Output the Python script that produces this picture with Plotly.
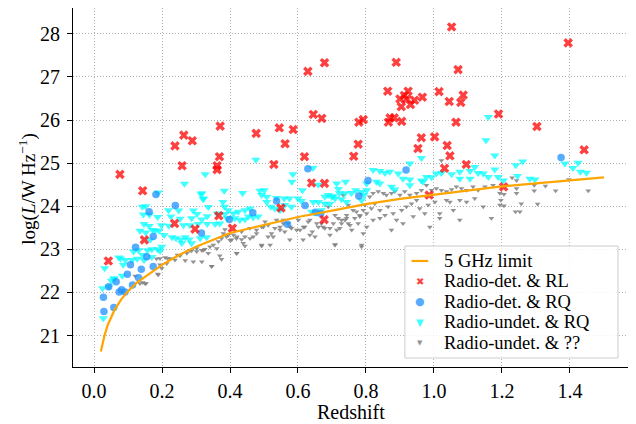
import plotly.graph_objects as go

# 5 GHz flux limit curve
limit_z = [0.02, 0.03, 0.04, 0.05, 0.06, 0.08, 0.1, 0.125, 0.15, 0.2, 0.25, 0.3, 0.4, 0.5,
           0.6, 0.7, 0.8, 0.9, 1.0, 1.1, 1.2, 1.3, 1.4, 1.5]
limit_logL = [20.63, 20.98, 21.24, 21.43, 21.59, 21.84, 22.03, 22.22, 22.36, 22.64, 22.87, 23.06,
              23.38, 23.57, 23.75, 23.9, 24.05, 24.17, 24.27, 24.37, 24.46, 24.53, 24.6, 24.67]

# Radio-detected & radio-loud
rl_z = [0.076, 0.143, 0.238, 0.264, 0.289, 0.371, 0.369, 0.362, 0.362, 0.259, 0.477, 0.545,
        0.562, 0.586, 0.529, 0.619, 0.629, 0.678, 0.645, 0.670, 0.640, 0.678,
        1.052, 1.395, 0.889, 1.071, 0.864, 1.015, 0.924, 0.913, 0.900, 0.920, 0.943, 0.966,
        0.931, 0.904, 1.045, 1.079, 1.086, 1.190, 0.779, 0.792, 0.866, 0.871, 0.883, 0.905,
        1.065, 1.303, 0.777, 0.764, 0.963, 1.002, 0.953, 1.039, 1.047, 1.095, 1.442, 1.031,
        0.986, 1.205,
        0.042, 0.148, 0.237, 0.297, 0.367, 0.407, 0.550, 0.677]
rl_logL = [24.74, 24.36, 25.40, 25.65, 25.52, 25.86, 25.15, 24.94, 24.85, 24.94, 25.69, 25.82,
           25.45, 25.78, 24.97, 25.15, 27.13, 27.33, 26.13, 26.04, 24.54, 24.53,
           28.16, 27.79, 27.34, 27.17, 26.67, 26.66, 26.67, 26.57, 26.49, 26.49, 26.46, 26.53,
           26.36, 26.31, 26.43, 26.41, 26.58, 26.14, 25.95, 26.01, 25.95, 26.05, 26.05, 25.97,
           25.95, 25.85, 25.44, 25.16, 25.59, 25.61, 25.34, 25.41, 25.17, 24.97, 25.31, 24.88,
           24.26, 24.45,
           22.73, 23.22, 23.60, 23.47, 23.78, 23.49, 23.96, 23.69]

# Radio-detected & radio-quiet
rq_z = [0.0275, 0.029, 0.058, 0.043, 0.065, 0.074, 0.081, 0.091, 0.113, 0.131, 0.139, 0.098,
        0.107, 0.122, 0.155, 0.174, 0.162, 0.174, 0.182, 0.239, 0.316, 0.398, 0.467, 0.537,
        0.569, 0.621, 0.651, 0.667, 0.629, 0.779, 0.806, 0.918, 1.374]
rq_logL = [21.89, 21.56, 21.65, 22.13, 22.25, 22.01, 22.06, 22.01, 22.17, 22.34, 22.54, 22.42,
           22.64, 23.05, 22.83, 23.30, 23.87, 22.60, 24.27, 24.02, 23.38, 23.69, 23.85, 24.12,
           23.58, 24.02, 23.86, 23.83, 24.87, 24.24, 24.60, 24.84, 25.13]

# Radio-undetected & radio-quiet
urq_z = [0.327, 0.266, 0.189, 0.383, 0.317, 0.321, 0.142, 0.152, 0.336, 0.219, 0.249, 0.292,
         0.379, 0.384, 0.303, 0.362, 0.333, 0.391, 0.145, 0.163, 0.187, 0.226, 0.253, 0.287,
         0.317, 0.370, 0.147, 0.162, 0.198, 0.220, 0.263, 0.282, 0.306, 0.333, 0.356, 0.135,
         0.152, 0.172, 0.180, 0.191, 0.206, 0.229, 0.241, 0.255, 0.268, 0.280, 0.312, 0.331,
         0.258, 0.287, 0.170, 0.187, 0.199, 0.157, 0.116, 0.131, 0.143, 0.147, 0.170, 0.194,
         0.127, 0.078, 0.092, 0.112, 0.086, 0.031, 0.059, 0.051, 0.083, 0.025, 0.044, 0.165,
         0.027, 0.058, 0.073,
         0.476, 0.585, 0.582, 0.613, 0.644, 0.660, 0.714, 0.740, 0.719, 0.722, 0.315, 0.322,
         0.437, 0.488, 0.501, 0.493, 0.508, 0.537, 0.575, 0.600, 0.679, 0.689, 0.704,
         0.738, 0.757, 0.770, 0.787, 0.508, 0.559, 0.520, 0.532, 0.547, 0.561, 0.581, 0.395,
         0.410, 0.424, 0.444, 0.459, 0.385, 0.414, 0.429, 0.444, 0.454, 0.468, 0.483, 0.610,
         0.645, 0.660, 0.699, 0.709, 0.679, 0.694, 0.728, 0.743, 0.640, 0.655, 0.669,
         1.153, 1.179, 0.929, 0.963, 0.821, 0.841, 0.856, 0.870, 0.895, 0.909, 0.929, 0.963,
         0.978, 0.993, 1.007, 1.022, 1.052, 1.076, 1.106, 1.120, 1.130, 1.145, 1.160, 1.179,
         1.189, 1.076, 1.106, 0.802, 0.831, 0.841, 0.875, 0.885, 0.929, 0.968, 0.802, 0.794,
         0.787,
         1.241, 1.261, 1.204, 1.246, 1.282, 1.297, 1.385, 1.409, 1.424, 1.431, 1.449, 1.160]
urq_logL = [24.74, 24.52, 24.32, 24.36, 24.30, 24.16, 23.99, 24.00, 23.98, 23.91, 23.90, 23.90,
            24.10, 23.99, 23.82, 23.83, 23.77, 23.72, 23.81, 23.80, 23.75, 23.76, 23.71, 23.72,
            23.69, 23.60, 23.59, 23.54, 23.56, 23.55, 23.56, 23.56, 23.59, 23.59, 23.59, 23.43,
            23.39, 23.45, 23.43, 23.43, 23.33, 23.28, 23.26, 23.23, 23.28, 23.23, 23.26, 23.28,
            23.15, 23.14, 23.00, 23.00, 23.06, 22.98, 22.95, 22.98, 22.87, 22.75, 22.82, 22.96,
            22.78, 22.79, 22.75, 22.75, 22.64, 22.56, 22.33, 22.27, 22.39, 22.10, 22.14, 23.22,
            21.40, 22.31, 22.81,
            25.08, 24.74, 24.57, 24.37, 24.89, 24.50, 24.53, 24.57, 24.40, 24.30, 24.28, 24.18,
            24.31, 24.36, 24.37, 24.26, 24.22, 24.19, 24.18, 24.18, 24.22, 24.26, 24.23,
            24.30, 24.31, 24.37, 24.33, 24.10, 24.18, 23.99, 23.95, 23.91, 24.03, 23.99, 23.91,
            23.83, 23.87, 23.91, 23.95, 23.82, 23.72, 23.68, 23.69, 23.76, 23.74, 23.76, 24.12,
            24.10, 24.10, 24.22, 24.18, 24.06, 24.06, 24.16, 24.10, 23.87, 23.85, 23.91,
            25.53, 25.18, 24.99, 25.12, 24.84, 24.82, 24.77, 24.80, 24.76, 24.64, 24.62, 24.60,
            24.68, 24.67, 24.76, 24.77, 24.74, 24.80, 24.82, 24.91, 24.77, 24.76, 24.68, 24.85,
            24.68, 24.64, 24.64, 24.53, 24.57, 24.53, 24.45, 24.39, 24.49, 24.57, 24.37, 24.26,
            24.14,
            24.95, 25.04, 24.60, 24.70, 24.64, 24.62, 24.99, 24.89, 25.01, 24.80, 24.78, 26.07]

# Radio-undetected & unknown
unk_z = [0.143, 0.153, 0.189, 0.184, 0.194, 0.209, 0.224, 0.238, 0.253, 0.268, 0.273, 0.287,
         0.302, 0.317, 0.326, 0.341, 0.351, 0.366, 0.375, 0.380, 0.390, 0.400, 0.410, 0.420,
         0.434, 0.439, 0.420, 0.375, 0.346, 0.317, 0.292, 0.214, 0.199,
         0.459, 0.478, 0.493, 0.518, 0.527, 0.547, 0.557, 0.577, 0.606, 0.616, 0.635, 0.655,
         0.674, 0.694, 0.714, 0.709, 0.728, 0.743, 0.748, 0.498, 0.537,
         0.216, 0.245, 0.282, 0.302, 0.321, 0.336, 0.361, 0.346, 0.370, 0.187, 0.150, 0.135,
         0.194,
         0.385, 0.395, 0.405, 0.419, 0.419, 0.434, 0.444, 0.444, 0.459, 0.468, 0.478, 0.493,
         0.493, 0.503, 0.512, 0.512, 0.522, 0.532, 0.547, 0.557, 0.561, 0.571, 0.576, 0.581,
         0.596, 0.601, 0.615, 0.620, 0.630, 0.635, 0.642, 0.650, 0.660, 0.669, 0.679, 0.689,
         0.694, 0.704, 0.709, 0.709, 0.718, 0.723, 0.728, 0.738, 0.743, 0.753, 0.758, 0.767,
         0.772, 0.777, 0.782, 0.787, 0.748, 0.762,
         0.782, 0.792, 0.797, 0.811, 0.821, 0.836, 0.851, 0.860, 0.875, 0.885, 0.900, 0.914,
         0.929, 0.949, 0.963, 0.978, 0.993, 1.007, 1.022, 1.037, 1.052, 1.066, 1.081, 1.096,
         1.115, 1.130, 1.150, 1.174,
         0.802, 0.816, 0.826, 0.841, 0.856, 0.865, 0.880, 0.890, 0.905, 0.919, 0.934, 0.949,
         0.958, 0.973, 0.983, 0.988, 1.003, 1.017, 1.037, 1.057, 1.076, 1.096, 1.120, 1.145,
         1.169,
         0.792, 0.787, 0.802, 0.821, 0.841, 0.875, 0.909, 0.939, 1.017, 1.047, 1.076,
         1.230, 1.243, 1.194, 1.206, 1.197, 1.194, 1.206, 1.243, 1.243, 1.257, 1.240, 1.253,
         1.295, 1.295, 1.305, 1.328, 1.358, 1.397, 1.454,
         1.022, 0.733, 0.121]
unk_logL = [22.23, 22.21, 22.41, 22.78, 22.79, 22.81, 22.79, 22.75, 22.85, 22.74, 22.91, 22.97,
            23.02, 22.98, 23.00, 23.06, 23.10, 23.18, 23.25, 23.37, 23.29, 23.21, 23.33, 23.29,
            23.23, 23.14, 22.91, 22.77, 22.61, 22.71, 22.71, 22.67, 22.56,
            23.25, 23.37, 23.10, 23.10, 23.29, 23.45, 23.60, 23.52, 23.45, 23.52, 23.68, 23.60,
            23.52, 23.49, 23.45, 23.11, 23.68, 23.72, 23.60, 23.52, 23.68,
            22.79, 22.87, 22.98, 22.95, 22.98, 22.91, 23.02, 22.61, 22.85, 22.43, 22.21, 22.21,
            22.64,
            23.46, 23.33, 23.22, 23.25, 22.91, 23.41, 23.29, 23.08, 23.49, 23.29, 23.45, 23.52,
            23.08, 23.64, 23.56, 23.29, 23.37, 23.49, 23.52, 23.68, 23.41, 23.60, 23.22, 23.49,
            23.45, 23.68, 23.22, 23.52, 23.64, 23.33, 23.41, 23.29, 23.52, 23.60, 23.49, 23.99,
            23.33, 23.60, 23.79, 23.10, 23.72, 23.49, 23.60, 23.68, 23.79, 23.56, 23.45, 23.72,
            23.87, 23.60, 23.79, 23.10, 24.03, 23.91,
            23.76, 23.91, 24.03, 24.22, 24.30, 24.34, 24.30, 24.26, 24.30, 24.34, 24.26, 24.34,
            24.26, 24.30, 24.37, 24.49, 24.37, 24.41, 24.37, 24.34, 24.39, 24.45, 24.41, 24.37,
            24.45, 24.37, 24.45, 24.49,
            23.83, 23.95, 24.06, 23.91, 23.79, 23.99, 23.83, 23.68, 23.91, 23.99, 24.06, 24.14,
            23.95, 23.83, 24.03, 23.52, 24.10, 23.83, 24.14, 23.91, 23.68, 24.10, 24.18, 23.99,
            23.72,
            23.37, 23.06, 23.52, 23.68, 23.72, 23.45, 23.60, 23.76, 23.72, 24.10, 24.14,
            24.66, 24.60, 24.30, 24.28, 24.14, 24.03, 24.01, 24.41, 24.30, 24.06, 23.87, 23.87,
            24.49, 24.36, 24.05, 24.47, 24.36, 24.62, 24.36,
            25.06, 24.26, 22.38]

legend_labels = ['5 GHz limit', 'Radio-det. &amp; RL', 'Radio-det. &amp; RQ',
                 'Radio-undet. &amp; RQ', 'Radio-undet. &amp; ??']

FONT = 'Liberation Serif'

fig = go.Figure()
fig.add_trace(go.Scatter(x=unk_z, y=unk_logL, mode='markers', name='Radio-undet. & ??',
                         marker=dict(symbol='triangle-down', size=5,
                                     color='rgba(128,128,128,0.85)', line=dict(width=0))))
fig.add_trace(go.Scatter(x=urq_z, y=urq_logL, mode='markers', name='Radio-undet. & RQ',
                         marker=dict(symbol='triangle-down', size=8,
                                     color='rgba(0,255,255,0.75)', line=dict(width=0))))
fig.add_trace(go.Scatter(x=rq_z, y=rq_logL, mode='markers', name='Radio-det. & RQ',
                         marker=dict(symbol='circle', size=7.5,
                                     color='rgba(30,144,255,0.75)', line=dict(width=0))))
fig.add_trace(go.Scatter(x=rl_z, y=rl_logL, mode='markers', name='Radio-det. & RL',
                         marker=dict(symbol='x', size=8.5,
                                     color='rgba(255,0,0,0.75)', line=dict(width=0))))
fig.add_trace(go.Scatter(x=limit_z, y=limit_logL, mode='lines', name='5 GHz limit',
                         line=dict(color='orange', width=2.2)))
fig.update_traces(showlegend=False)

# hand-made legend box, matplotlib style
lx0, lx1, ly0, ly1 = 0.598, 0.982, 0.0251, 0.3370
rows = [0.2953, 0.2382, 0.1811, 0.1240, 0.0669]
shapes = [dict(type='rect', xref='paper', yref='paper', x0=lx0, x1=lx1, y0=ly0, y1=ly1,
               line=dict(color='#cccccc', width=1), fillcolor='rgba(255,255,255,0.85)'),
          dict(type='line', xref='paper', yref='paper', x0=0.61, x1=0.64, y0=rows[0], y1=rows[0],
               line=dict(color='orange', width=2.2))]
glyphs = [('✖', 'rgba(255,0,0,0.75)', 10), ('●', 'rgba(30,144,255,0.75)', 11),
          ('▼', 'rgba(0,255,255,0.75)', 10), ('▼', 'rgba(128,128,128,0.85)', 7)]
annotations = []
for (g, c, s), yy in zip(glyphs, rows[1:]):
    annotations.append(dict(xref='paper', yref='paper', x=0.625, y=yy, text=g, showarrow=False,
                            xanchor='center', yanchor='middle',
                            font=dict(family='DejaVu Sans', size=s, color=c)))
for lab, yy in zip(legend_labels, rows):
    annotations.append(dict(xref='paper', yref='paper', x=0.665, y=yy, text=lab, showarrow=False,
                            xanchor='left', yanchor='middle',
                            font=dict(family=FONT, size=18.5, color='black')))
# axis titles
annotations.append(dict(xref='paper', yref='paper', x=0.5, y=-0.1267, text='Redshift',
                        showarrow=False, xanchor='center', yanchor='middle',
                        font=dict(family=FONT, size=20, color='black')))
annotations.append(dict(xref='paper', yref='paper', x=-0.081, y=0.494,
                        text='log(<i>L</i>/W Hz<sup>−1</sup>)', textangle=-90,
                        showarrow=False, xanchor='center', yanchor='middle',
                        font=dict(family=FONT, size=19, color='black')))

# the page body keeps its default 8px margin, so the figure is 8px smaller than the window
fig.update_layout(
    width=628, height=416, autosize=False,
    margin=dict(l=65, r=8, t=0, b=57),
    paper_bgcolor='white', plot_bgcolor='white',
    font=dict(family=FONT, size=20, color='black'),
    shapes=shapes, annotations=annotations,
)
axis_style = dict(showline=True, linecolor='black', linewidth=1.2, mirror=True,
                  ticks='outside', ticklen=5, tickwidth=1.2, tickcolor='black',
                  showgrid=True, gridcolor='#b0b0b0', griddash='1px,2px', gridwidth=1,
                  zeroline=False, automargin=False, tickfont=dict(family=FONT, size=20))
fig.update_xaxes(range=[-0.062, 1.571], tickvals=[0, 0.2, 0.4, 0.6, 0.8, 1.0, 1.2, 1.4],
                 ticktext=['0.0', '0.2', '0.4', '0.6', '0.8', '1.0', '1.2', '1.4'],
                 ticklabelstandoff=1, **axis_style)
fig.update_yaxes(range=[20.27, 28.60], dtick=1, ticklabelstandoff=3, **axis_style)

fig.write_html('out.html')
